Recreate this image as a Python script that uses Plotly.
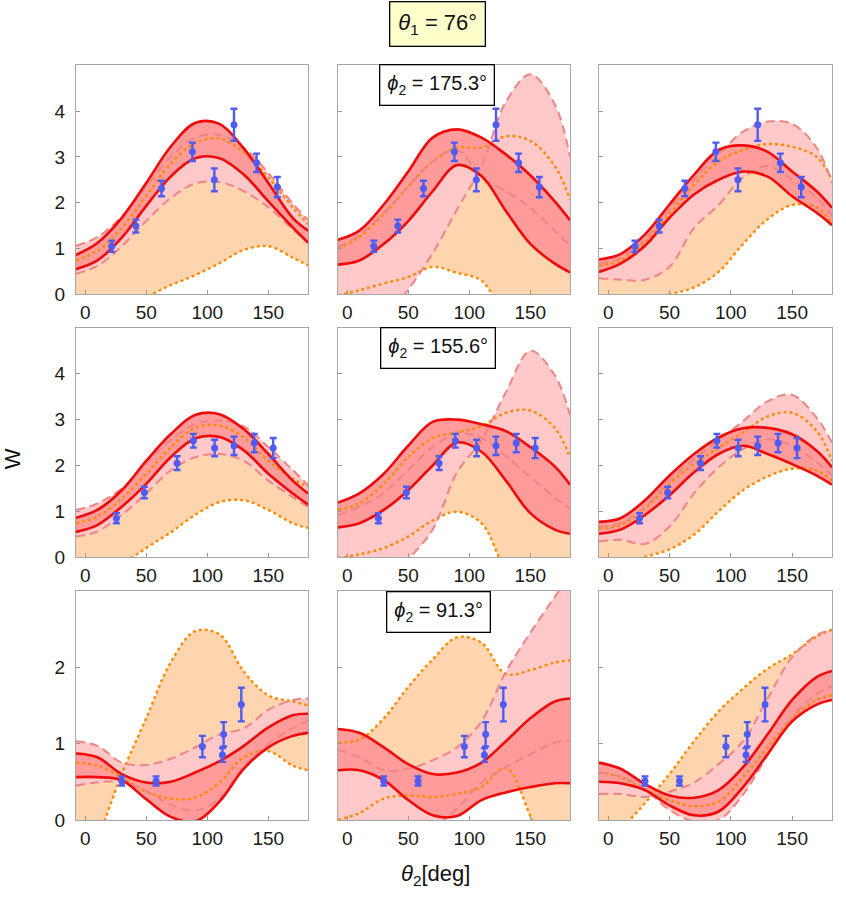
import plotly.graph_objects as go

# common theta2 grid (deg)
X = [-7.5, 10, 30, 50, 70, 90, 110, 130, 150, 170, 182.5]

# ---- row 1 (phi2 = 175.3) ----
r1c1_red_up = [0.86, 1.12, 1.67, 2.43, 3.22, 3.74, 3.72, 3.18, 2.43, 1.67, 1.39]
r1c1_red_lo = [0.55, 0.74, 1.24, 1.93, 2.57, 2.97, 2.97, 2.61, 2.03, 1.46, 1.13]
r1c1_pink_a = [1.06, 1.25, 1.70, 2.35, 3.00, 3.42, 3.48, 3.20, 2.65, 1.98, 1.62]
r1c1_pink_b = [0.45, 0.62, 1.05, 1.60, 2.10, 2.42, 2.45, 2.25, 1.90, 1.42, 1.12]
r1c1_or_a = [0.74, 0.95, 1.45, 2.15, 2.85, 3.30, 3.40, 3.10, 2.55, 1.90, 1.53]
r1c1_or_b = [-0.70, -0.50, -0.25, -0.05, 0.20, 0.42, 0.68, 0.97, 1.05, 0.80, 0.63]

r1c2_red_up = [1.19, 1.39, 1.96, 2.68, 3.42, 3.60, 3.42, 3.05, 2.60, 2.03, 1.62]
r1c2_red_lo = [0.65, 0.74, 1.10, 1.60, 2.25, 2.82, 2.58, 1.82, 1.10, 0.67, 0.48]
r1c2_pink_a = [1.03, 1.30, 1.78, 2.35, 2.90, 3.15, 2.55, 2.25, 1.89, 1.39, 1.06]
r1c2_pink_b = [-1.20, -0.90, -0.55, 0.10, 0.90, 1.85, 2.80, 4.20, 4.80, 4.15, 3.00]
r1c2_or_a = [1.00, 1.25, 1.75, 2.35, 2.90, 3.20, 3.20, 3.45, 3.35, 2.80, 2.07]
r1c2_or_b = [-0.02, 0.09, 0.24, 0.38, 0.60, 0.47, 0.30, -0.50, -1.00, -1.30, -1.50]

r1c3_red_up = [0.76, 0.88, 1.31, 1.96, 2.61, 3.15, 3.25, 3.11, 2.68, 2.25, 1.89]
r1c3_red_lo = [0.49, 0.67, 1.06, 1.67, 2.18, 2.50, 2.68, 2.57, 2.14, 1.78, 1.51]
r1c3_pink_a = [0.67, 0.80, 1.20, 1.85, 2.50, 3.05, 3.55, 3.77, 3.72, 3.20, 2.43]
r1c3_pink_b = [0.35, 0.32, 0.32, 0.60, 1.45, 1.95, 2.55, 2.80, 2.50, 2.10, 1.71]
r1c3_or_a = [0.63, 0.74, 1.14, 1.75, 2.39, 2.90, 3.15, 3.28, 3.22, 3.00, 2.50]
r1c3_or_b = [-0.40, -0.30, -0.15, 0.00, 0.15, 0.49, 1.10, 1.64, 1.95, 1.90, 1.53]

# ---- row 2 (phi2 = 155.6) ----
r2c1_red_up = [0.86, 1.03, 1.46, 2.10, 2.68, 3.10, 3.12, 2.79, 2.25, 1.67, 1.39]
r2c1_red_lo = [0.55, 0.70, 1.10, 1.60, 2.18, 2.59, 2.62, 2.33, 1.82, 1.39, 1.15]
r2c1_pink_a = [1.03, 1.17, 1.50, 2.05, 2.55, 2.90, 2.98, 2.85, 2.40, 1.90, 1.57]
r2c1_pink_b = [0.45, 0.56, 0.92, 1.39, 1.89, 2.18, 2.25, 2.10, 1.67, 1.31, 1.10]
r2c1_or_a = [0.74, 0.88, 1.28, 1.82, 2.39, 2.82, 2.87, 2.61, 2.10, 1.71, 1.53]
r2c1_or_b = [-0.55, -0.38, -0.15, 0.20, 0.54, 0.92, 1.20, 1.24, 1.03, 0.74, 0.64]

r2c2_red_up = [1.19, 1.39, 1.82, 2.43, 2.95, 3.00, 2.90, 2.75, 2.40, 1.98, 1.58]
r2c2_red_lo = [0.65, 0.74, 1.03, 1.46, 2.00, 2.50, 2.30, 1.67, 0.96, 0.60, 0.51]
r2c2_pink_a = [0.92, 1.10, 1.40, 1.90, 2.40, 2.70, 2.60, 2.20, 1.75, 1.30, 1.06]
r2c2_pink_b = [-1.30, -1.00, -0.60, -0.05, 0.60, 1.85, 2.55, 3.60, 4.50, 3.97, 3.10]
r2c2_or_a = [1.03, 1.17, 1.60, 2.18, 2.60, 2.72, 2.86, 3.15, 3.20, 2.82, 2.18]
r2c2_or_b = [-0.02, 0.06, 0.20, 0.45, 0.80, 0.99, 0.74, -0.30, -0.90, -1.30, -1.50]

r2c3_red_up = [0.77, 0.85, 1.24, 1.78, 2.25, 2.61, 2.81, 2.82, 2.68, 2.32, 1.96]
r2c3_red_lo = [0.51, 0.60, 0.92, 1.35, 1.85, 2.25, 2.43, 2.25, 2.03, 1.78, 1.58]
r2c3_pink_a = [0.67, 0.74, 1.10, 1.67, 2.14, 2.54, 2.97, 3.40, 3.54, 3.04, 2.50]
r2c3_pink_b = [0.34, 0.38, 0.29, 0.67, 1.39, 1.96, 2.36, 2.57, 2.43, 2.07, 1.78]
r2c3_or_a = [0.63, 0.70, 1.06, 1.60, 2.03, 2.39, 2.72, 3.07, 3.15, 2.75, 2.10]
r2c3_or_b = [-0.35, -0.20, 0.00, 0.17, 0.49, 1.00, 1.46, 1.76, 1.93, 1.89, 1.67]

# ---- row 3 (phi2 = 91.3) ----
r3c1_red_up = [0.87, 0.82, 0.60, 0.49, 0.50, 0.62, 0.77, 0.97, 1.21, 1.37, 1.39]
r3c1_red_lo = [0.56, 0.56, 0.52, 0.27, 0.04, -0.02, 0.24, 0.67, 0.95, 1.10, 1.14]
r3c1_pink_a = [1.03, 0.97, 0.75, 0.72, 0.80, 0.95, 1.12, 1.20, 1.44, 1.57, 1.59]
r3c1_pink_b = [0.45, 0.49, 0.50, 0.38, 0.20, 0.12, 0.28, 0.70, 1.00, 1.20, 1.30]
r3c1_or_a = [-1.05, -0.28, 0.60, 1.33, 2.06, 2.47, 2.43, 1.94, 1.63, 1.55, 1.50]
r3c1_or_b = [0.75, 0.71, 0.56, 0.37, 0.28, 0.29, 0.49, 0.82, 0.90, 0.71, 0.65]

r3c2_red_up = [1.19, 1.14, 0.95, 0.73, 0.60, 0.62, 0.75, 1.03, 1.33, 1.55, 1.59]
r3c2_red_lo = [0.65, 0.65, 0.52, 0.26, 0.06, 0.05, 0.26, 0.36, 0.43, 0.48, 0.48]
r3c2_pink_a = [-0.50, -0.30, -0.10, -0.05, -0.08, 0.15, 0.49, 0.69, 0.86, 1.01, 1.04]
r3c2_pink_b = [0.92, 0.82, 0.65, 0.67, 0.78, 0.95, 1.29, 1.94, 2.45, 2.92, 3.20]
r3c2_or_a = [1.01, 1.05, 1.33, 1.74, 2.10, 2.39, 2.32, 1.91, 1.96, 2.06, 2.09]
r3c2_or_b = [0.00, 0.09, 0.28, 0.32, 0.30, 0.34, 0.43, 0.68, 0.05, -0.80, -1.20]

r3c3_red_up = [0.75, 0.67, 0.47, 0.32, 0.29, 0.39, 0.69, 1.12, 1.57, 1.87, 1.95]
r3c3_red_lo = [0.50, 0.48, 0.39, 0.19, 0.06, 0.11, 0.43, 0.86, 1.29, 1.51, 1.57]
r3c3_pink_a = [0.34, 0.34, 0.30, 0.37, 0.49, 0.73, 1.03, 1.59, 2.13, 2.42, 2.49]
r3c3_pink_b = [0.62, 0.57, 0.40, 0.13, -0.02, 0.00, 0.33, 0.85, 1.35, 1.65, 1.75]
r3c3_or_a = [-0.55, -0.15, 0.22, 0.60, 1.03, 1.42, 1.72, 1.98, 2.17, 2.40, 2.49]
r3c3_or_b = [0.62, 0.56, 0.39, 0.26, 0.18, 0.24, 0.56, 0.95, 1.33, 1.57, 1.63]

# ---- measured data (per row) ----
row1_x = [21.8, 41.5, 62.5, 87.8, 105.8, 121.9, 140.4, 157.4]
row1_y = [1.05, 1.49, 2.31, 3.11, 2.50, 3.70, 2.87, 2.34]
row1_err = [0.12, 0.14, 0.17, 0.20, 0.25, 0.35, 0.20, 0.22]

row2_x = [25.6, 48.5, 75.3, 88.6, 106.0, 121.9, 138.5, 154.0]
row2_y = [0.85, 1.41, 2.05, 2.54, 2.38, 2.43, 2.49, 2.38]
row2_err = [0.11, 0.125, 0.15, 0.15, 0.18, 0.20, 0.20, 0.22]

row3_x = [30.0, 58.1, 96.0, 112.4, 113.4, 127.9]
row3_y = [0.51, 0.51, 0.96, 0.85, 1.12, 1.51]
row3_err = [0.06, 0.06, 0.14, 0.09, 0.16, 0.22]

phi2_labels = ["175.3", "155.6", "91.3"]
theta1_label = "76"
x_ticks = [0, 50, 100, 150]

panels = {
    (1, 1): (r1c1_red_up, r1c1_red_lo, r1c1_pink_a, r1c1_pink_b, r1c1_or_a, r1c1_or_b),
    (1, 2): (r1c2_red_up, r1c2_red_lo, r1c2_pink_a, r1c2_pink_b, r1c2_or_a, r1c2_or_b),
    (1, 3): (r1c3_red_up, r1c3_red_lo, r1c3_pink_a, r1c3_pink_b, r1c3_or_a, r1c3_or_b),
    (2, 1): (r2c1_red_up, r2c1_red_lo, r2c1_pink_a, r2c1_pink_b, r2c1_or_a, r2c1_or_b),
    (2, 2): (r2c2_red_up, r2c2_red_lo, r2c2_pink_a, r2c2_pink_b, r2c2_or_a, r2c2_or_b),
    (2, 3): (r2c3_red_up, r2c3_red_lo, r2c3_pink_a, r2c3_pink_b, r2c3_or_a, r2c3_or_b),
    (3, 1): (r3c1_red_up, r3c1_red_lo, r3c1_pink_a, r3c1_pink_b, r3c1_or_a, r3c1_or_b),
    (3, 2): (r3c2_red_up, r3c2_red_lo, r3c2_pink_a, r3c2_pink_b, r3c2_or_a, r3c2_or_b),
    (3, 3): (r3c3_red_up, r3c3_red_lo, r3c3_pink_a, r3c3_pink_b, r3c3_or_a, r3c3_or_b),
}
row_data = {1: (row1_x, row1_y, row1_err), 2: (row2_x, row2_y, row2_err), 3: (row3_x, row3_y, row3_err)}

W, H = 846, 905
col_px = {1: (76, 308), 2: (338, 570), 3: (599, 832)}
row_px = {1: (66, 298), 2: (332, 564), 3: (598, 830)}
yr = {1: [0, 5], 2: [0, 5], 3: [0, 3]}
ytv = {1: [0, 1, 2, 3, 4], 2: [0, 1, 2, 3, 4], 3: [0, 1, 2]}

C_OR_FILL = "#FED5AE"
C_PINK_FILL = "#FFC9C9"
C_RED_FILL = "#FF9B9B"
C_OR_LINE = "#FF8A00"
C_PINK_LINE = "#F08484"
C_RED_LINE = "#F00A0A"
C_BLUE = "#4F5CF2"
FONT = "Liberation Sans, Arial, sans-serif"

fig = go.Figure()
layout = {}

for (r, c), (red_up, red_lo, pink_a, pink_b, or_a, or_b) in panels.items():
    idx = (r - 1) * 3 + c
    xa = "x" if idx == 1 else f"x{idx}"
    ya = "y" if idx == 1 else f"y{idx}"
    common = dict(x=X, xaxis=xa, yaxis=ya, mode="lines", showlegend=False, hoverinfo="skip")
    # fills
    for lo, up, col in ((or_b, or_a, C_OR_FILL), (pink_b, pink_a, C_PINK_FILL), (red_lo, red_up, C_RED_FILL)):
        fig.add_trace(go.Scatter(y=lo, line=dict(width=0, shape="spline"), **common))
        fig.add_trace(go.Scatter(y=up, line=dict(width=0, shape="spline"), fill="tonexty",
                                 fillcolor=col, **common))
    # boundary lines
    for yy in (or_a, or_b):
        fig.add_trace(go.Scatter(y=yy, line=dict(color=C_OR_LINE, width=2.4, dash="3px,3px", shape="spline"), **common))
    for yy in (pink_a, pink_b):
        fig.add_trace(go.Scatter(y=yy, line=dict(color=C_PINK_LINE, width=2, dash="9px,5px", shape="spline"), **common))
    for yy in (red_up, red_lo):
        fig.add_trace(go.Scatter(y=yy, line=dict(color=C_RED_LINE, width=2.6, shape="spline"), **common))
    dx, dy, de = row_data[r]
    fig.add_trace(go.Scatter(x=dx, y=dy, xaxis=xa, yaxis=ya, mode="markers", showlegend=False,
                             marker=dict(color=C_BLUE, size=7),
                             error_y=dict(type="data", array=de, color=C_BLUE, thickness=2.4, width=3.5)))

    x0, x1 = col_px[c]
    y0, y1 = row_px[r]
    axname_x = "xaxis" if idx == 1 else f"xaxis{idx}"
    axname_y = "yaxis" if idx == 1 else f"yaxis{idx}"
    layout[axname_x] = dict(domain=[x0 / W, x1 / W], anchor=ya, range=[-7.5, 182.5],
                            tickvals=x_ticks, ticks="inside", ticklen=4, tickcolor="#999999",
                            showline=True, linecolor="#A6A6A6", linewidth=1, mirror=True,
                            showgrid=False, zeroline=False, ticklabelstandoff=1,
                            tickfont=dict(family=FONT, size=19, color="#1a1a1a"))
    layout[axname_y] = dict(domain=[1 - y1 / H, 1 - y0 / H], anchor=xa, range=yr[r],
                            tickvals=ytv[r], ticks="inside", ticklen=4, tickcolor="#999999",
                            showticklabels=(c == 1), ticklabelstandoff=6,
                            showline=True, linecolor="#A6A6A6", linewidth=1, mirror=True,
                            showgrid=False, zeroline=False,
                            tickfont=dict(family=FONT, size=19, color="#1a1a1a"))

annotations = [
    dict(text=f"<i>θ</i><sub>1</sub> = {theta1_label}°", x=437.5 / W, y=1 - 24 / H, xref="paper", yref="paper",
         xanchor="center", yanchor="middle",
         showarrow=False, bgcolor="#FFFFCC", bordercolor="#000000", borderwidth=1.3, borderpad=8,
         font=dict(family=FONT, size=22, color="#111111")),
    dict(text="W", x=12 / W, y=1 - 465 / H, xref="paper", yref="paper", showarrow=False, textangle=-90,
         xanchor="center", yanchor="middle",
         font=dict(family=FONT, size=22, color="#111111")),
    dict(text="<i>θ</i><sub>2</sub>[deg]", x=435 / W, y=1 - 886 / H, xref="paper", yref="paper",
         xanchor="center", yanchor="middle",
         showarrow=False, font=dict(family=FONT, size=22, color="#111111")),
]
box_centers = [(436.5, 86.5), (437.5, 352), (438, 619.5)]
for lab, (cx, cy) in zip(phi2_labels, box_centers):
    annotations.append(dict(text=f"<i>ϕ</i><sub>2</sub> = {lab}°", x=cx / W, y=1 - cy / H,
                            xref="paper", yref="paper", showarrow=False, bgcolor="#FFFFFF",
                            xanchor="center", yanchor="middle",
                            bordercolor="#000000", borderwidth=1.3, borderpad=7,
                            font=dict(family=FONT, size=20, color="#111111")))

fig.update_layout(width=W, height=H, margin=dict(l=0, r=0, t=0, b=0),
                  paper_bgcolor="white", plot_bgcolor="white",
                  annotations=annotations, **layout)
fig.write_html("out.html")
